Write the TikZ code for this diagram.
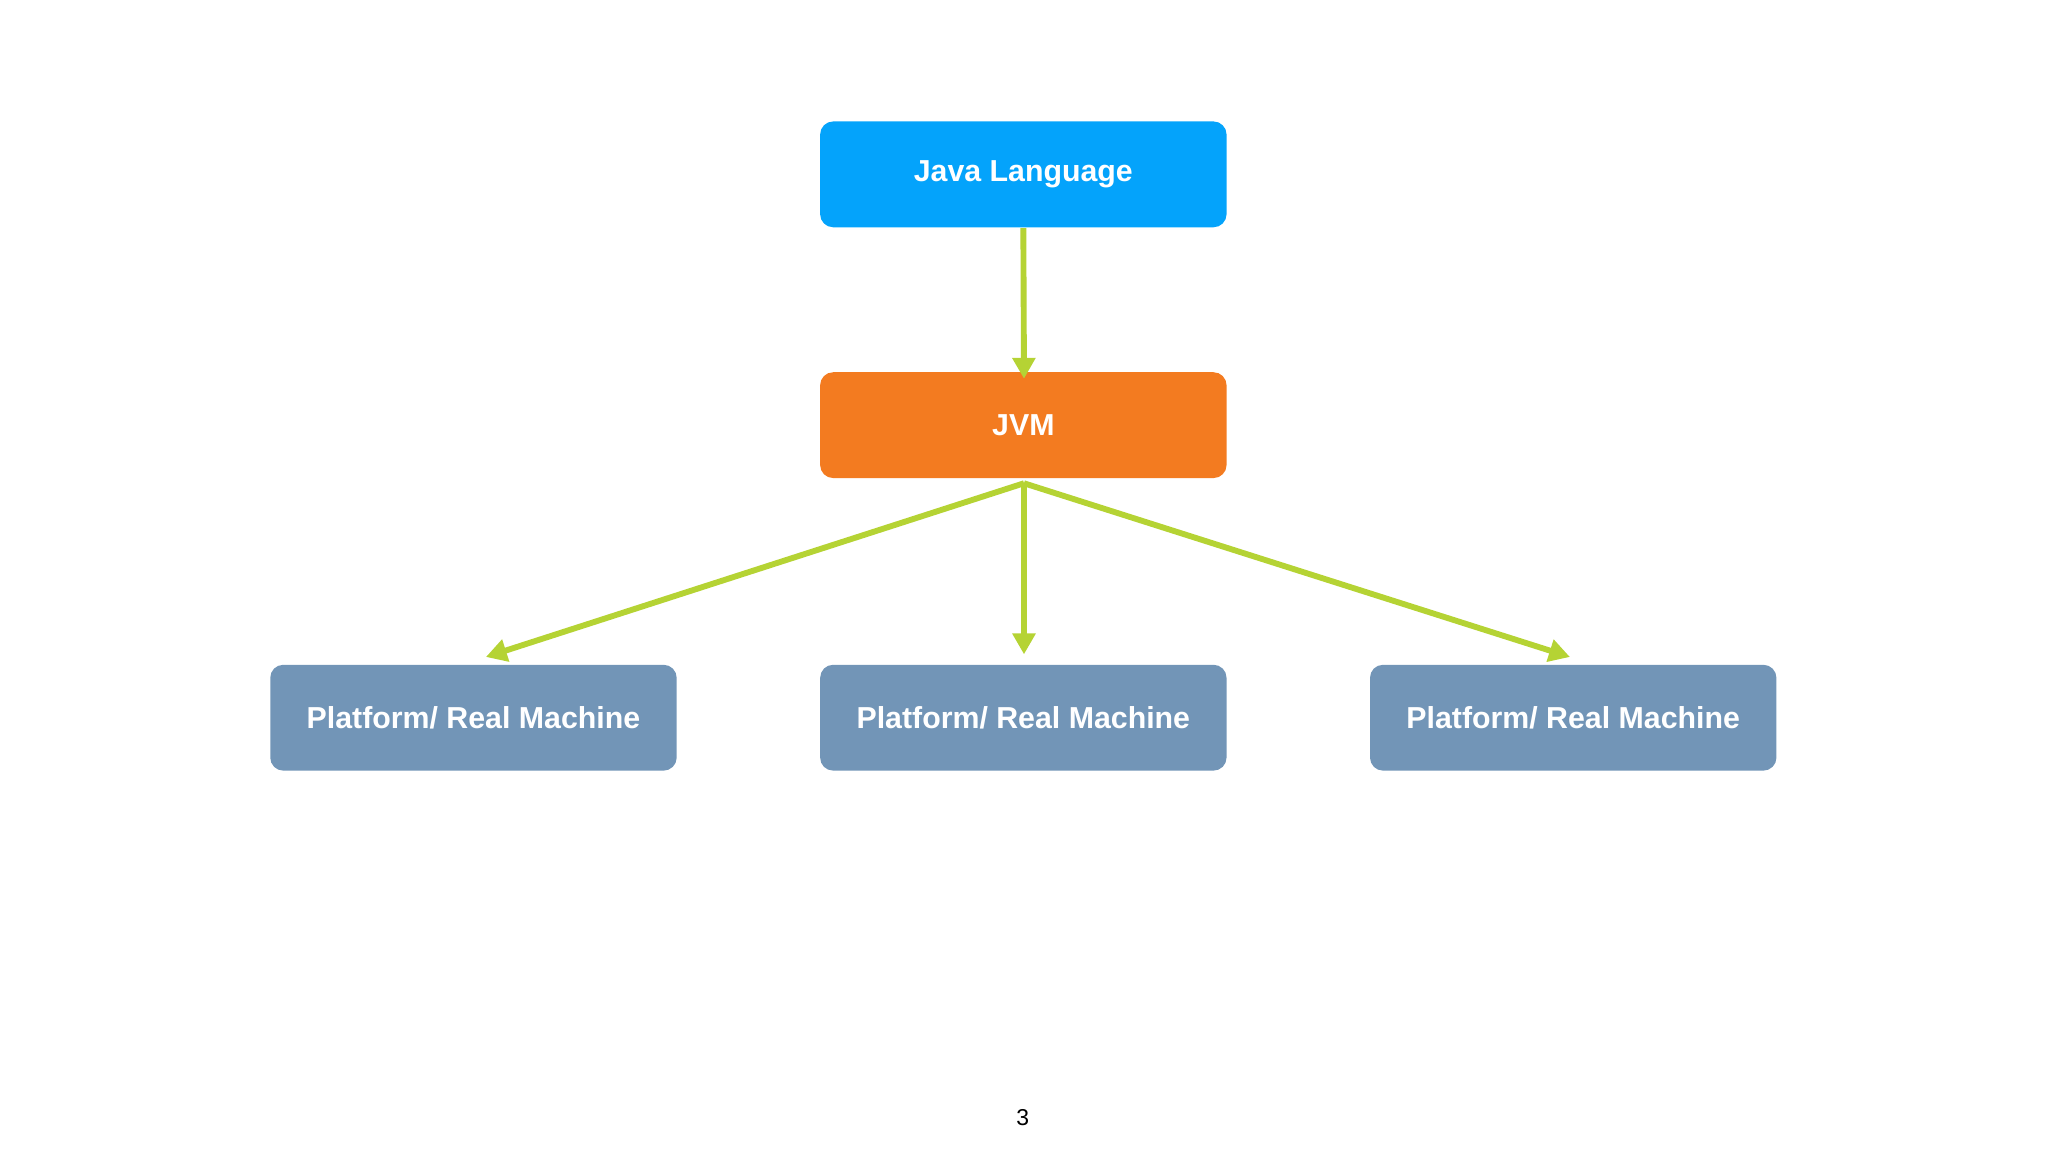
\documentclass[tikz,border=0pt]{standalone}
\usepackage{fontspec}
\setmainfont{Liberation Sans}
\usetikzlibrary{arrows.meta}
\definecolor{jblue}{HTML}{04A3FB}
\definecolor{jorange}{HTML}{F37B20}
\definecolor{pblue}{HTML}{7295B7}
\definecolor{agreen}{HTML}{B5D334}
\begin{document}
\begin{tikzpicture}[x=0.01cm,y=-0.01cm,
  box/.style={rounded corners=0.1cm,minimum width=3.11cm,minimum height=0.81cm,inner sep=0pt,text=white,font=\fontsize{6.6}{8}\selectfont\bfseries},
  arr/.style={draw=agreen,line width=0.045cm,-{Triangle[length=0.16cm,width=0.17cm]}}]
\useasboundingbox (0,0) rectangle (1568,882);
\node[box,fill=jblue] (java) at (783.5,133.5) {Java Language};
\node[box,fill=jorange] (jvm) at (783.5,325.5) {JVM};
\node[box,fill=pblue] (p1) at (362.5,549.5) {Platform/ Real Machine};
\node[box,fill=pblue] (p2) at (783.5,549.5) {Platform/ Real Machine};
\node[box,fill=pblue] (p3) at (1204.5,549.5) {Platform/ Real Machine};
\coordinate (j) at (784,370);
\coordinate (t1) at (372,503);
\coordinate (t2) at (784,501);
\coordinate (t3) at (1202,503);
\coordinate (t0) at (784,290);
\draw[arr] (java.south) -- (t0);
\draw[arr] (j) -- (t1);
\draw[arr] (j) -- (t2);
\draw[arr] (j) -- (t3);
\node[font=\fontsize{5}{6}\selectfont] (pg) at (783,856) {3};
\end{tikzpicture}
\end{document}
